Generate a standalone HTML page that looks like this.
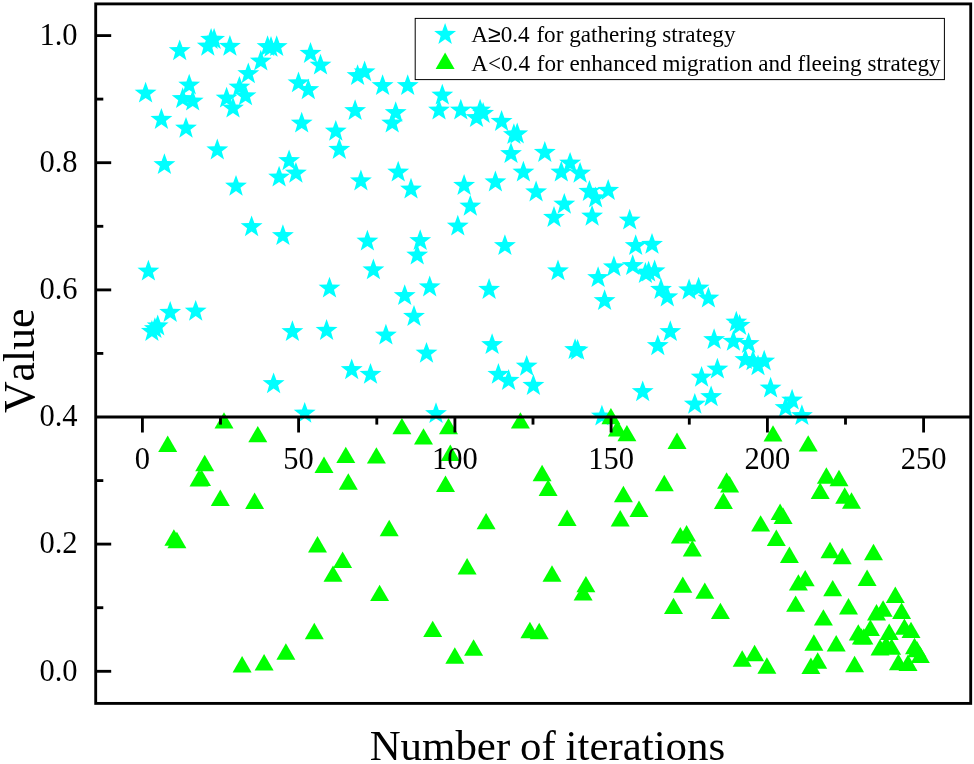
<!DOCTYPE html>
<html lang="en"><head><meta charset="utf-8"><title>Value vs Number of iterations</title>
<style>html,body{margin:0;padding:0;background:#fff}body{width:974px;height:764px;overflow:hidden}svg{display:block}text{font-kerning:none;font-family:"Liberation Serif","Times New Roman",Times,serif;fill:#000}</style></head><body>
<svg width="974" height="764" viewBox="0 0 974 764">
<rect width="974" height="764" fill="#fff"/>
<defs><polygon id="s" points="0.00,-11.50 2.77,-3.81 10.94,-3.55 4.48,1.46 6.76,9.30 0.00,4.71 -6.76,9.30 -4.48,1.46 -10.94,-3.55 -2.77,-3.81"/><polygon id="t" points="0,-8.20 9.50,8.20 -9.50,8.20"/></defs>
<g fill="#00ffff">
<use href="#s" x="145.6" y="93.3"/>
<use href="#s" x="179.7" y="50.9"/>
<use href="#s" x="207.8" y="46.4"/>
<use href="#s" x="211.1" y="39.6"/>
<use href="#s" x="214.1" y="39.6"/>
<use href="#s" x="229.9" y="46.5"/>
<use href="#s" x="267.6" y="46.7"/>
<use href="#s" x="271.0" y="47.5"/>
<use href="#s" x="276.7" y="46.7"/>
<use href="#s" x="260.8" y="61.3"/>
<use href="#s" x="248.3" y="73.9"/>
<use href="#s" x="239.4" y="87.4"/>
<use href="#s" x="245.5" y="96.0"/>
<use href="#s" x="226.6" y="98.3"/>
<use href="#s" x="233.0" y="108.3"/>
<use href="#s" x="189.2" y="85.3"/>
<use href="#s" x="182.7" y="98.8"/>
<use href="#s" x="192.7" y="101.2"/>
<use href="#s" x="161.4" y="119.6"/>
<use href="#s" x="186.0" y="128.4"/>
<use href="#s" x="217.3" y="150.1"/>
<use href="#s" x="164.4" y="164.7"/>
<use href="#s" x="310.5" y="53.6"/>
<use href="#s" x="320.5" y="65.2"/>
<use href="#s" x="298.5" y="83.0"/>
<use href="#s" x="308.3" y="89.9"/>
<use href="#s" x="301.7" y="123.3"/>
<use href="#s" x="289.1" y="160.9"/>
<use href="#s" x="279.1" y="177.2"/>
<use href="#s" x="295.9" y="173.4"/>
<use href="#s" x="236.0" y="186.4"/>
<use href="#s" x="335.8" y="131.4"/>
<use href="#s" x="339.3" y="149.6"/>
<use href="#s" x="357.6" y="75.8"/>
<use href="#s" x="364.6" y="72.0"/>
<use href="#s" x="382.6" y="85.8"/>
<use href="#s" x="407.7" y="85.8"/>
<use href="#s" x="355.1" y="110.8"/>
<use href="#s" x="395.7" y="112.8"/>
<use href="#s" x="392.2" y="123.3"/>
<use href="#s" x="360.9" y="181.1"/>
<use href="#s" x="398.2" y="172.2"/>
<use href="#s" x="411.0" y="189.3"/>
<use href="#s" x="442.3" y="95.3"/>
<use href="#s" x="439.0" y="110.3"/>
<use href="#s" x="460.8" y="110.3"/>
<use href="#s" x="476.5" y="117.8"/>
<use href="#s" x="480.1" y="110.3"/>
<use href="#s" x="483.1" y="113.6"/>
<use href="#s" x="501.6" y="121.6"/>
<use href="#s" x="513.9" y="134.7"/>
<use href="#s" x="517.2" y="134.1"/>
<use href="#s" x="511.0" y="153.8"/>
<use href="#s" x="544.8" y="152.6"/>
<use href="#s" x="523.4" y="172.2"/>
<use href="#s" x="495.4" y="182.1"/>
<use href="#s" x="464.1" y="185.6"/>
<use href="#s" x="536.1" y="192.1"/>
<use href="#s" x="570.1" y="163.4"/>
<use href="#s" x="561.3" y="172.2"/>
<use href="#s" x="580.1" y="173.4"/>
<use href="#s" x="589.4" y="191.6"/>
<use href="#s" x="608.2" y="190.6"/>
<use href="#s" x="251.6" y="226.9"/>
<use href="#s" x="282.9" y="235.7"/>
<use href="#s" x="148.4" y="271.3"/>
<use href="#s" x="170.2" y="312.6"/>
<use href="#s" x="195.7" y="311.4"/>
<use href="#s" x="151.9" y="331.6"/>
<use href="#s" x="154.9" y="328.8"/>
<use href="#s" x="157.7" y="326.1"/>
<use href="#s" x="292.4" y="331.7"/>
<use href="#s" x="326.6" y="330.6"/>
<use href="#s" x="329.5" y="288.3"/>
<use href="#s" x="470.3" y="206.4"/>
<use href="#s" x="457.8" y="226.2"/>
<use href="#s" x="554.0" y="217.6"/>
<use href="#s" x="367.4" y="241.2"/>
<use href="#s" x="420.2" y="240.7"/>
<use href="#s" x="417.2" y="255.2"/>
<use href="#s" x="504.9" y="245.7"/>
<use href="#s" x="373.4" y="270.0"/>
<use href="#s" x="429.7" y="287.1"/>
<use href="#s" x="404.7" y="295.8"/>
<use href="#s" x="489.1" y="289.6"/>
<use href="#s" x="558.0" y="271.0"/>
<use href="#s" x="414.0" y="316.6"/>
<use href="#s" x="385.9" y="335.2"/>
<use href="#s" x="426.5" y="353.4"/>
<use href="#s" x="492.1" y="344.7"/>
<use href="#s" x="526.7" y="366.4"/>
<use href="#s" x="351.7" y="369.9"/>
<use href="#s" x="370.5" y="374.5"/>
<use href="#s" x="498.4" y="374.5"/>
<use href="#s" x="564.3" y="204.4"/>
<use href="#s" x="595.6" y="198.1"/>
<use href="#s" x="592.1" y="216.4"/>
<use href="#s" x="629.7" y="220.2"/>
<use href="#s" x="635.7" y="245.7"/>
<use href="#s" x="652.0" y="244.5"/>
<use href="#s" x="613.9" y="267.0"/>
<use href="#s" x="598.1" y="277.8"/>
<use href="#s" x="632.7" y="265.8"/>
<use href="#s" x="645.4" y="273.6"/>
<use href="#s" x="648.6" y="272.2"/>
<use href="#s" x="654.6" y="271.0"/>
<use href="#s" x="604.6" y="300.8"/>
<use href="#s" x="661.0" y="289.6"/>
<use href="#s" x="667.3" y="297.1"/>
<use href="#s" x="689.1" y="290.1"/>
<use href="#s" x="698.6" y="288.3"/>
<use href="#s" x="708.4" y="298.3"/>
<use href="#s" x="670.3" y="331.7"/>
<use href="#s" x="657.8" y="345.9"/>
<use href="#s" x="575.1" y="349.7"/>
<use href="#s" x="577.6" y="350.4"/>
<use href="#s" x="714.1" y="339.7"/>
<use href="#s" x="736.3" y="322.3"/>
<use href="#s" x="739.6" y="325.6"/>
<use href="#s" x="733.4" y="341.5"/>
<use href="#s" x="748.6" y="343.8"/>
<use href="#s" x="745.4" y="359.7"/>
<use href="#s" x="753.0" y="361.0"/>
<use href="#s" x="764.2" y="361.2"/>
<use href="#s" x="758.0" y="366.0"/>
<use href="#s" x="717.4" y="369.3"/>
<use href="#s" x="701.6" y="377.4"/>
<use href="#s" x="273.6" y="383.9"/>
<use href="#s" x="304.7" y="413.4"/>
<use href="#s" x="508.6" y="380.6"/>
<use href="#s" x="533.4" y="385.6"/>
<use href="#s" x="436.0" y="413.7"/>
<use href="#s" x="642.7" y="391.9"/>
<use href="#s" x="711.1" y="396.9"/>
<use href="#s" x="694.8" y="404.4"/>
<use href="#s" x="601.9" y="416.2"/>
<use href="#s" x="770.6" y="388.2"/>
<use href="#s" x="792.1" y="400.2"/>
<use href="#s" x="785.6" y="407.7"/>
<use href="#s" x="801.9" y="415.7"/>
</g>
<g fill="#00ff00">
<use href="#t" x="224.0" y="420.4"/>
<use href="#t" x="257.8" y="434.1"/>
<use href="#t" x="167.7" y="443.7"/>
<use href="#t" x="204.7" y="463.0"/>
<use href="#t" x="199.0" y="478.2"/>
<use href="#t" x="201.5" y="477.7"/>
<use href="#t" x="220.3" y="497.8"/>
<use href="#t" x="254.6" y="500.8"/>
<use href="#t" x="324.0" y="464.7"/>
<use href="#t" x="173.9" y="537.5"/>
<use href="#t" x="176.9" y="540.0"/>
<use href="#t" x="317.5" y="544.3"/>
<use href="#t" x="401.9" y="426.1"/>
<use href="#t" x="423.5" y="436.4"/>
<use href="#t" x="448.5" y="426.1"/>
<use href="#t" x="520.4" y="420.4"/>
<use href="#t" x="450.3" y="452.7"/>
<use href="#t" x="345.8" y="454.9"/>
<use href="#t" x="376.4" y="455.4"/>
<use href="#t" x="348.3" y="481.5"/>
<use href="#t" x="445.5" y="483.7"/>
<use href="#t" x="542.1" y="473.0"/>
<use href="#t" x="548.1" y="487.8"/>
<use href="#t" x="486.1" y="521.1"/>
<use href="#t" x="389.2" y="528.0"/>
<use href="#t" x="610.9" y="416.1"/>
<use href="#t" x="617.4" y="428.2"/>
<use href="#t" x="626.9" y="433.1"/>
<use href="#t" x="677.0" y="440.7"/>
<use href="#t" x="773.0" y="433.4"/>
<use href="#t" x="664.3" y="483.0"/>
<use href="#t" x="623.4" y="494.0"/>
<use href="#t" x="639.0" y="508.8"/>
<use href="#t" x="620.2" y="518.3"/>
<use href="#t" x="567.1" y="517.8"/>
<use href="#t" x="726.6" y="480.5"/>
<use href="#t" x="729.6" y="484.2"/>
<use href="#t" x="723.4" y="500.8"/>
<use href="#t" x="760.6" y="523.4"/>
<use href="#t" x="680.3" y="535.2"/>
<use href="#t" x="686.6" y="533.2"/>
<use href="#t" x="692.3" y="548.4"/>
<use href="#t" x="808.2" y="443.4"/>
<use href="#t" x="826.4" y="475.5"/>
<use href="#t" x="839.0" y="478.0"/>
<use href="#t" x="820.2" y="490.8"/>
<use href="#t" x="844.7" y="495.5"/>
<use href="#t" x="851.5" y="500.5"/>
<use href="#t" x="780.1" y="511.8"/>
<use href="#t" x="783.1" y="515.8"/>
<use href="#t" x="776.3" y="537.7"/>
<use href="#t" x="789.4" y="554.7"/>
<use href="#t" x="830.0" y="550.0"/>
<use href="#t" x="842.2" y="556.0"/>
<use href="#t" x="873.5" y="552.0"/>
<use href="#t" x="333.0" y="573.6"/>
<use href="#t" x="314.3" y="631.0"/>
<use href="#t" x="285.9" y="651.5"/>
<use href="#t" x="264.1" y="662.3"/>
<use href="#t" x="242.1" y="664.3"/>
<use href="#t" x="342.6" y="559.8"/>
<use href="#t" x="379.6" y="592.9"/>
<use href="#t" x="467.1" y="566.3"/>
<use href="#t" x="552.0" y="573.5"/>
<use href="#t" x="432.7" y="628.9"/>
<use href="#t" x="473.6" y="647.5"/>
<use href="#t" x="454.8" y="655.5"/>
<use href="#t" x="529.9" y="630.0"/>
<use href="#t" x="539.2" y="631.0"/>
<use href="#t" x="585.9" y="584.1"/>
<use href="#t" x="583.1" y="592.4"/>
<use href="#t" x="682.8" y="584.6"/>
<use href="#t" x="704.8" y="590.6"/>
<use href="#t" x="673.5" y="605.9"/>
<use href="#t" x="720.4" y="610.9"/>
<use href="#t" x="742.2" y="658.5"/>
<use href="#t" x="754.6" y="653.0"/>
<use href="#t" x="766.9" y="665.5"/>
<use href="#t" x="867.1" y="577.8"/>
<use href="#t" x="805.2" y="578.1"/>
<use href="#t" x="798.4" y="582.4"/>
<use href="#t" x="832.7" y="588.1"/>
<use href="#t" x="795.6" y="603.6"/>
<use href="#t" x="848.5" y="606.2"/>
<use href="#t" x="823.4" y="617.4"/>
<use href="#t" x="895.3" y="594.8"/>
<use href="#t" x="901.6" y="610.8"/>
<use href="#t" x="883.1" y="608.5"/>
<use href="#t" x="876.5" y="612.2"/>
<use href="#t" x="870.4" y="627.7"/>
<use href="#t" x="858.3" y="632.4"/>
<use href="#t" x="861.4" y="636.4"/>
<use href="#t" x="863.9" y="636.4"/>
<use href="#t" x="889.2" y="631.7"/>
<use href="#t" x="904.4" y="626.6"/>
<use href="#t" x="911.0" y="629.9"/>
<use href="#t" x="880.0" y="647.3"/>
<use href="#t" x="891.6" y="646.6"/>
<use href="#t" x="914.5" y="646.0"/>
<use href="#t" x="920.3" y="654.8"/>
<use href="#t" x="898.4" y="662.0"/>
<use href="#t" x="908.0" y="662.7"/>
<use href="#t" x="813.9" y="642.5"/>
<use href="#t" x="836.2" y="643.2"/>
<use href="#t" x="817.7" y="660.5"/>
<use href="#t" x="810.9" y="665.8"/>
<use href="#t" x="854.6" y="664.0"/>
<use href="#t" x="886.1" y="644.3"/>
<use href="#t" x="917.0" y="649.1"/>
</g>
<g stroke="#000" stroke-width="2.85" fill="none" stroke-linecap="butt">
<rect x="95.7" y="3.9" width="875.0" height="699.5"/>
<line x1="95.7" y1="417.0" x2="970.7" y2="417.0"/>
<line x1="95.7" y1="671.3" x2="111.2" y2="671.3"/>
<line x1="95.7" y1="607.7" x2="103.3" y2="607.7"/>
<line x1="95.7" y1="544.1" x2="111.2" y2="544.1"/>
<line x1="95.7" y1="480.6" x2="103.3" y2="480.6"/>
<line x1="95.7" y1="353.4" x2="103.3" y2="353.4"/>
<line x1="95.7" y1="289.9" x2="111.2" y2="289.9"/>
<line x1="95.7" y1="226.3" x2="103.3" y2="226.3"/>
<line x1="95.7" y1="162.7" x2="111.2" y2="162.7"/>
<line x1="95.7" y1="99.1" x2="103.3" y2="99.1"/>
<line x1="95.7" y1="35.6" x2="111.2" y2="35.6"/>
<line x1="142.4" y1="417.0" x2="142.4" y2="432.5"/>
<line x1="220.5" y1="417.0" x2="220.5" y2="424.6"/>
<line x1="298.6" y1="417.0" x2="298.6" y2="432.5"/>
<line x1="376.8" y1="417.0" x2="376.8" y2="424.6"/>
<line x1="454.9" y1="417.0" x2="454.9" y2="432.5"/>
<line x1="533.0" y1="417.0" x2="533.0" y2="424.6"/>
<line x1="611.1" y1="417.0" x2="611.1" y2="432.5"/>
<line x1="689.3" y1="417.0" x2="689.3" y2="424.6"/>
<line x1="767.4" y1="417.0" x2="767.4" y2="432.5"/>
<line x1="845.5" y1="417.0" x2="845.5" y2="424.6"/>
<line x1="923.6" y1="417.0" x2="923.6" y2="432.5"/>
</g>
<g font-size="30.5">
<text x="77.5" y="680.6" text-anchor="end">0.0</text>
<text x="77.5" y="553.4" text-anchor="end">0.2</text>
<text x="77.5" y="426.3" text-anchor="end">0.4</text>
<text x="77.5" y="299.2" text-anchor="end">0.6</text>
<text x="77.5" y="172.0" text-anchor="end">0.8</text>
<text x="77.5" y="44.9" text-anchor="end">1.0</text>
<text x="142.4" y="468.9" text-anchor="middle">0</text>
<text x="298.6" y="468.9" text-anchor="middle">50</text>
<text x="454.9" y="468.9" text-anchor="middle">100</text>
<text x="611.1" y="468.9" text-anchor="middle">150</text>
<text x="767.4" y="468.9" text-anchor="middle">200</text>
<text x="923.6" y="468.9" text-anchor="middle">250</text>
</g>
<text font-size="42.9" word-spacing="-0.9" x="547.4" y="760.4" text-anchor="middle">Number of iterations</text>
<text font-size="43.8" transform="translate(33.6,360.8) rotate(-90)" text-anchor="middle">Value</text>
<rect x="415.2" y="18.4" width="529.2" height="61.2" fill="#fff" stroke="#000" stroke-width="1"/>
<use href="#s" x="445.1" y="34.6" fill="#00ffff"/>
<use href="#t" x="445.1" y="60.8" fill="#00ff00"/>
<g font-size="23.14"><text x="471.3" y="41.7">A<tspan font-family="Liberation Sans,Arial,sans-serif">≥</tspan>0.4<tspan dx="1"> for gathering strategy</tspan></text>
<text x="471.3" y="70.6">A&lt;0.4<tspan dx="1"> for enhanced migration and fleeing strategy</tspan></text></g>
</svg></body></html>
